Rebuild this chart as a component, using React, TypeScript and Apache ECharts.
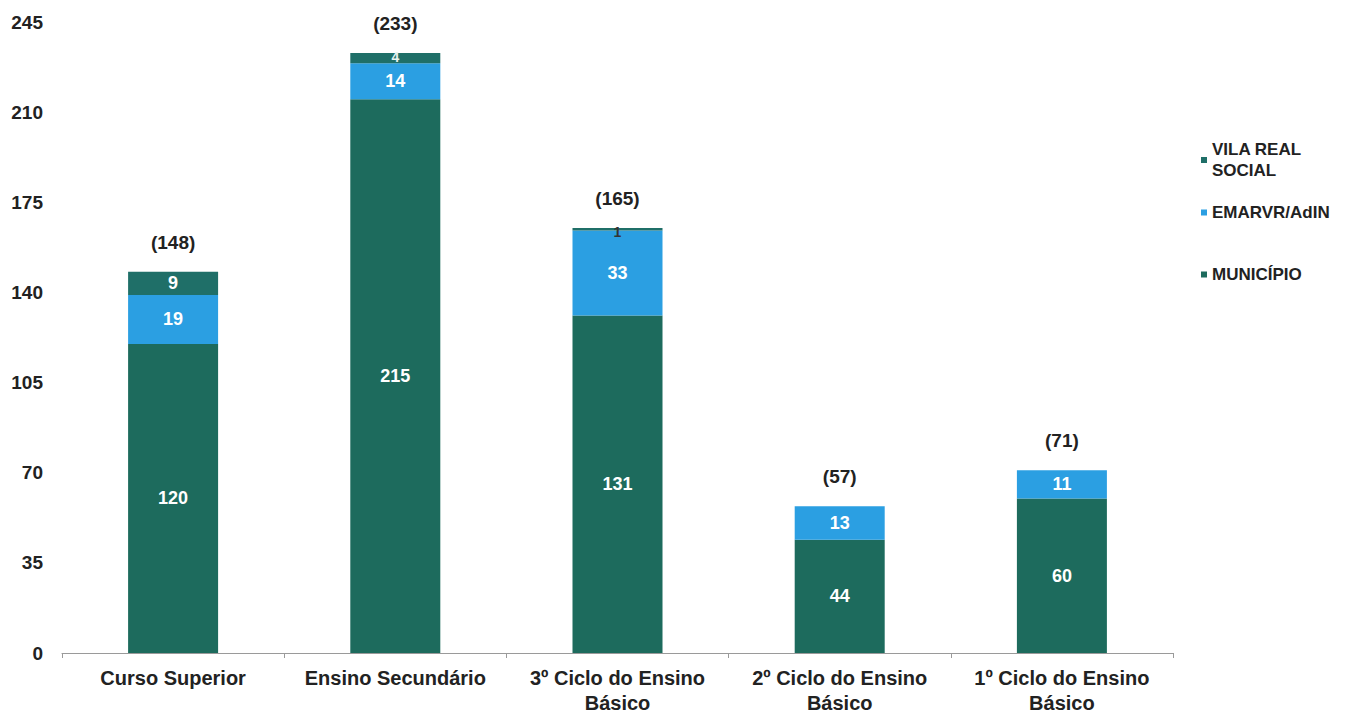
import React, { useEffect, useRef } from "react";
import * as echarts from "echarts";

// Education levels on the category axis
const categories = [
  "Curso Superior",
  "Ensino Secundário",
  "3º Ciclo do Ensino\nBásico",
  "2º Ciclo do Ensino\nBásico",
  "1º Ciclo do Ensino\nBásico",
];

// Counts per entity, stacked bottom to top
const municipio = [120, 215, 131, 44, 60];
const emarvr = [19, 14, 33, 13, 11];
const vilaRealSocial = [9, 4, 1, 0, 0];

// Totals shown in brackets above each bar
const totals = [148, 233, 165, 57, 71];

const yTicks = { min: 0, max: 245, interval: 35 };

const COLORS = {
  municipio: "#1d6b5d",
  emarvr: "#2b9fe2",
  vila: "#1f6f68",
};

const FONT = "'Liberation Sans', Arial, sans-serif";

export default function App() {
  const ref = useRef<HTMLDivElement>(null);

  useEffect(() => {
    document.body.style.margin = "0";
    if (!ref.current) return;
    const chart = echarts.init(ref.current, null, { renderer: "svg" });

    const segLabel = (size: number) => ({
      show: true,
      position: "inside",
      color: "#ffffff",
      fontFamily: FONT,
      fontWeight: "bold",
      fontSize: size,
      formatter: (p: any) => (p.value ? String(p.value) : ""),
    });

    const legendBase = {
      orient: "vertical",
      left: 1196,
      icon: "rect",
      itemWidth: 6,
      itemHeight: 6,
      itemGap: 6,
      selectedMode: false,
      textStyle: {
        fontFamily: FONT,
        fontWeight: "bold",
        fontSize: 17,
        color: "#222222",
        lineHeight: 21,
      },
    };

    chart.setOption({
      animation: false,
      backgroundColor: "#ffffff",
      grid: { left: 62, right: 175, top: 22, bottom: 58, containLabel: false },
      legend: [
        {
          ...legendBase,
          top: 134,
          data: ["VILA REAL SOCIAL"],
          formatter: () => "VILA REAL\nSOCIAL",
        },
        { ...legendBase, top: 197, data: ["EMARVR/AdIN"] },
        { ...legendBase, top: 259, data: ["MUNICÍPIO"] },
      ],
      xAxis: {
        type: "category",
        data: categories,
        axisLine: { show: true, lineStyle: { color: "#9a9a9a", width: 1 } },
        axisTick: { show: true, length: 5, lineStyle: { color: "#9a9a9a" } },
        axisLabel: {
          color: "#222222",
          fontFamily: FONT,
          fontWeight: "bold",
          fontSize: 20,
          lineHeight: 25,
          margin: 12,
          interval: 0,
        },
      },
      yAxis: {
        type: "value",
        min: yTicks.min,
        max: yTicks.max,
        interval: yTicks.interval,
        axisLine: { show: false },
        axisTick: { show: false },
        splitLine: { show: false },
        axisLabel: {
          color: "#222222",
          fontFamily: FONT,
          fontWeight: "bold",
          fontSize: 19,
          margin: 19,
        },
      },
      series: [
        {
          name: "MUNICÍPIO",
          type: "bar",
          stack: "total",
          barWidth: 90,
          data: municipio,
          itemStyle: { color: COLORS.municipio },
          label: segLabel(18),
        },
        {
          name: "EMARVR/AdIN",
          type: "bar",
          stack: "total",
          barWidth: 90,
          data: emarvr,
          itemStyle: { color: COLORS.emarvr },
          label: segLabel(18),
        },
        {
          name: "VILA REAL SOCIAL",
          type: "bar",
          stack: "total",
          barWidth: 90,
          data: vilaRealSocial.map((v) => ({
            value: v,
            label:
              v < 5
                ? { fontSize: 14, position: "insideTop", distance: -3, color: v < 2 ? "#333333" : "#e8f2f0" }
                : undefined,
          })),
          itemStyle: { color: COLORS.vila },
          label: segLabel(18),
        },
        {
          name: "total",
          type: "bar",
          stack: "total",
          barWidth: 90,
          data: totals.map(() => 0),
          itemStyle: { color: "transparent" },
          label: {
            show: true,
            position: "top",
            distance: 20,
            color: "#222222",
            fontFamily: FONT,
            fontWeight: "bold",
            fontSize: 19,
            formatter: (p: any) => `(${totals[p.dataIndex]})`,
          },
        },
      ],
    });

    return () => chart.dispose();
  }, []);

  return <div ref={ref} style={{ width: 1348, height: 715 }} />;
}
